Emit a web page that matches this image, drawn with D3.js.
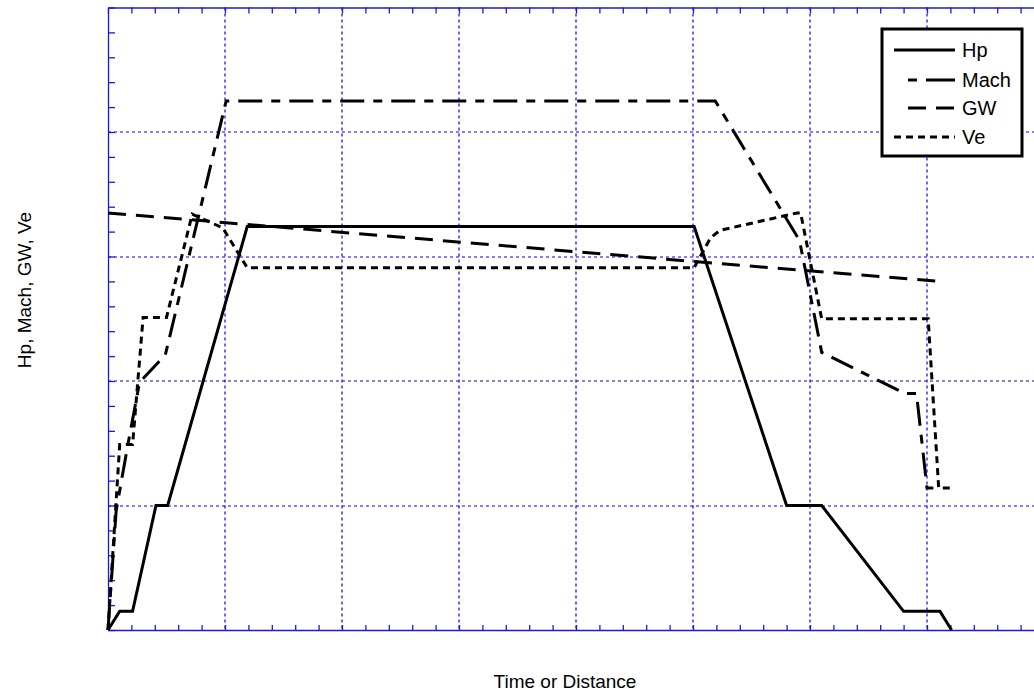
<!DOCTYPE html>
<html>
<head>
	<title>Hp Mach GW Ve</title>
	<script src="https://d3js.org/d3.v7.min.js"></script>
	<style type="text/css">
		body { margin: 0; background: #fff; }
		text { font-family: Arial, "Liberation Sans", sans-serif; }
	</style>
</head>
<body>
<div id="chart"></div>
<script type="text/javascript">

	// values (x: time/distance, y: scaled value)
	var hpX   = [0, 0.10, 0.21, 0.41, 0.51, 1.19, 5.01, 5.80, 6.10, 6.80, 7.11, 7.21];
	var hpY   = [0, 0.15, 0.15, 1.00, 1.00, 3.24, 3.24, 1.00, 1.00, 0.15, 0.15, 0];

	var machX = [0, 0.07, 0.17, 0.27, 0.49, 1.01, 5.19, 5.91, 6.10, 6.81, 6.91, 7.00, 7.11];
	var machY = [0, 0.96, 1.49, 1.99, 2.21, 4.25, 4.25, 3.13, 2.23, 1.90, 1.90, 1.14, 1.14];

	var gwX   = [0, 5.01, 7.11];
	var gwY   = [3.35, 2.96, 2.80];

	var veX   = [0, 0.10, 0.21, 0.30, 0.50, 0.72, 0.98, 1.19, 5.01, 5.15, 5.23, 5.89, 5.92, 6.10, 7.01, 7.10, 7.21];
	var veY   = [0, 1.49, 1.49, 2.51, 2.51, 3.34, 3.23, 2.91, 2.91, 3.15, 3.21, 3.35, 3.35, 2.50, 2.50, 1.14, 1.14];

	var seriesNames = ["Hp", "Mach", "GW", "Ve"];
	var xMax = 8, yMax = 5;

	var width = 1034,
	    height = 692;
	var plotLeft = 108, plotRight = 1044, plotTop = 7.5, plotBottom = 630;

	var svg = d3.select("#chart")
	    .append("svg")
	    .attr("width", width)
	    .attr("height", height);

	var xScale = d3.scaleLinear().domain([0, xMax]).range([plotLeft, plotRight]);
	var yScale = d3.scaleLinear().domain([0, yMax]).range([plotBottom, plotTop]);

	var axisColor = "#1a1ad6";
	var snap = v => Math.round(v);

	// grid
	svg.append("g").selectAll("line")
	    .data(d3.range(1, xMax))
	    .enter().append("line")
	    .attr("x1", d => snap(xScale(d))).attr("x2", d => snap(xScale(d)))
	    .attr("y1", plotTop).attr("y2", plotBottom)
	    .attr("stroke", "#0000ff").attr("stroke-width", 1.2)
	    .attr("stroke-dasharray", "3,3");

	svg.append("g").selectAll("line")
	    .data(d3.range(1, yMax))
	    .enter().append("line")
	    .attr("x1", plotLeft).attr("x2", plotRight)
	    .attr("y1", d => snap(yScale(d))).attr("y2", d => snap(yScale(d)))
	    .attr("stroke", d => d == 2 ? "#101080" : "#0000ff").attr("stroke-width", 1.2)
	    .attr("stroke-dasharray", "3,3");

	// axes, inside ticks every 0.2, no labels
	var xTicks = d3.range(0, xMax + 0.001, 0.2);
	var yTicks = d3.range(0, yMax + 0.001, 0.2);

	function styleAxis(g) {
	    g.selectAll("path, line").attr("stroke", axisColor).attr("stroke-width", 1.3);
	    g.selectAll("text").remove();
	}

	svg.append("g").attr("transform", "translate(0," + plotBottom + ")")
	    .call(d3.axisBottom(xScale).tickValues(xTicks).tickSize(-5).tickSizeOuter(0).tickFormat(""))
	    .call(styleAxis);
	svg.append("g").attr("transform", "translate(0," + plotTop + ")")
	    .call(d3.axisTop(xScale).tickValues(xTicks).tickSize(-6).tickSizeOuter(0).tickFormat(""))
	    .call(styleAxis);
	svg.append("g").attr("transform", "translate(" + plotLeft + ",0)")
	    .call(d3.axisLeft(yScale).tickValues(yTicks).tickSize(-7).tickSizeOuter(0).tickFormat(""))
	    .call(styleAxis);
	svg.append("g").attr("transform", "translate(" + plotRight + ",0)")
	    .call(d3.axisRight(yScale).tickValues(yTicks).tickSize(-7).tickSizeOuter(0).tickFormat(""))
	    .call(styleAxis);

	// series
	var dashes = { Hp: null, Mach: "24,9,9,9", GW: "18,10", Ve: "7,5" };
	var series = [
	    { name: "Hp",   xs: hpX,   ys: hpY },
	    { name: "Mach", xs: machX, ys: machY },
	    { name: "GW",   xs: gwX,   ys: gwY },
	    { name: "Ve",   xs: veX,   ys: veY }
	];

	var line = d3.line()
	    .x(d => xScale(d[0]))
	    .y(d => yScale(d[1]));

	svg.append("g").selectAll("path")
	    .data(series)
	    .enter().append("path")
	    .attr("d", s => line(s.xs.map((x, i) => [x, s.ys[i]])))
	    .attr("fill", "none")
	    .attr("stroke", "#000")
	    .attr("stroke-width", 3)
	    .attr("stroke-linejoin", "miter")
	    .attr("stroke-dasharray", s => dashes[s.name]);

	// legend
	var lg = svg.append("g");
	lg.append("rect")
	    .attr("x", 882).attr("y", 29).attr("width", 140).attr("height", 127)
	    .attr("fill", "#fff").attr("stroke", "#000").attr("stroke-width", 3);

	var legendRows = [50, 80, 108, 137];
	var legendStart = { Hp: 894, Mach: 908, GW: 908, Ve: 894 };
	seriesNames.forEach(function(name, i) {
	    lg.append("line")
	        .attr("x1", legendStart[name]).attr("x2", 955)
	        .attr("y1", legendRows[i]).attr("y2", legendRows[i])
	        .attr("stroke", "#000").attr("stroke-width", 3)
	        .attr("stroke-dasharray", name == "Mach" ? "9,9,28,0" : dashes[name]);
	    lg.append("text")
	        .attr("x", 962).attr("y", legendRows[i] + 7)
	        .attr("font-size", 20)
	        .text(name);
	});

	// axis titles
	svg.append("text")
	    .attr("x", 565).attr("y", 688)
	    .attr("text-anchor", "middle")
	    .attr("font-size", 19)
	    .text("Time or Distance");

	svg.append("text")
	    .attr("transform", "translate(31,290) rotate(-90)")
	    .attr("text-anchor", "middle")
	    .attr("font-size", 19)
	    .text("Hp, Mach, GW, Ve");
</script>
</body>
</html>
